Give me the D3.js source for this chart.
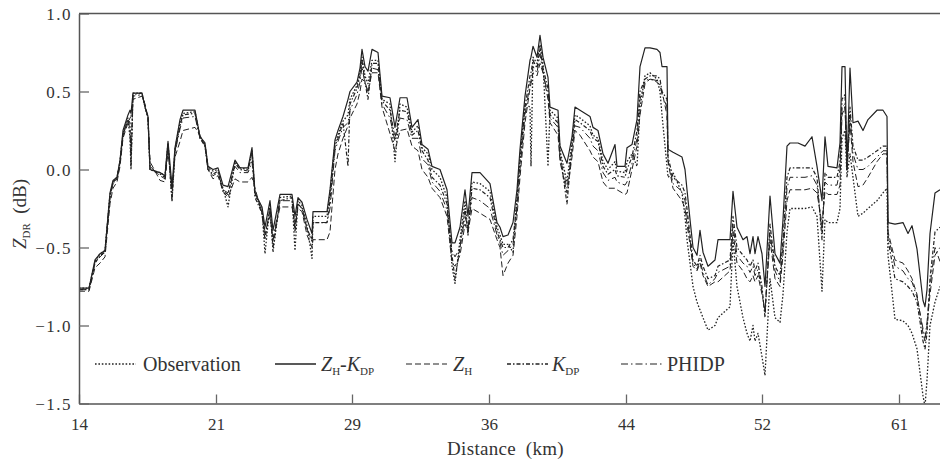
<!DOCTYPE html>
<html>
<head>
<meta charset="utf-8">
<script src="https://cdn.jsdelivr.net/npm/d3@7"></script>
<style>
  body { margin: 0; background: #fff; }
  svg text { font-family: "Liberation Serif", "DejaVu Serif", serif !important; fill: #333; }
</style>
</head>
<body>
<div id="chart"></div>
<script>

// Data: range gate index along the beam, ZDR (dB) for each correction method
var gate = [0,10,16,21,26,31,34,38,41,44,49,51,52,54,63,66,69,71,81,86,89,93,96,101,104,116,121,126,129,134,139,144,149,156,161,169,173,176,183,186,191,194,201,213,216,219,223,228,233,234,248,
  251,256,259,264,269,271,278,281,283,286,289,293,299,303,311,316,321,328,333,339,343,349,353,361,368,373,376,381,386,389,393,401,411,418,421,424,429,434,438,441,446,451,452,454,458,461,464,469,471,479,481,488,493,496,501,511,514,519,524,529,536,538,546,548,553,558,561,566,571,578,581,583,588,589,594,603,606,608,611,614,618,621,624,629,636,639,651,654,658,664,668,671,674,676,679,683,686,691,696,701,704,708,711,719,726,733,738,743,746,749,758,761,763,766,768,771,774,779,784,789,798,804,808,809,816,824,829,833,838,844,846,848,851,856,861];

var zhkdp = [-0.76,-0.76,-0.58,-0.54,-0.52,-0.15,-0.07,-0.05,0.06,0.25,0.35,0.38,0.36,0.49,0.49,0.40,0.34,0.00,-0.02,-0.04,0.18,-0.11,0.14,0.32,0.38,0.38,0.21,0.17,0.02,0.00,0.01,-0.10,-0.11,0.06,0.01,0.01,0.14,-0.15,-0.24,-0.37,-0.20,-0.39,-0.16,-0.16,-0.30,-0.18,-0.21,-0.32,-0.41,-0.27,-0.27,
  -0.13,0.19,0.25,0.34,0.45,0.50,0.56,0.65,0.77,0.66,0.63,0.77,0.75,0.47,0.46,0.27,0.46,0.46,0.27,0.32,0.16,0.13,0.02,0.00,-0.13,-0.47,-0.47,-0.37,-0.13,-0.30,-0.02,-0.02,-0.09,-0.34,-0.37,-0.43,-0.42,-0.34,-0.13,0.13,0.47,0.70,0.72,0.79,0.72,0.86,0.72,0.59,0.40,0.38,0.15,0.04,0.21,0.40,0.38,0.34,0.27,0.25,0.10,0.04,0.16,0.02,0.02,0.14,0.16,0.32,0.66,0.78,0.78,0.77,0.75,0.66,0.66,0.13,0.11,0.08,0.00,-0.13,-0.32,-0.50,-0.55,-0.39,-0.53,-0.62,-0.58,-0.45,-0.45,-0.14,-0.37,-0.45,-0.43,-0.54,-0.43,-0.54,-0.43,-0.54,-0.75,-0.17,-0.54,-0.60,-0.32,0.15,0.17,0.17,0.15,0.21,0.02,-0.20,0.21,0.02,0.01,0.17,0.66,0.66,0.01,0.65,0.30,0.31,0.25,0.32,0.38,0.38,0.34,-0.34,-0.35,-0.34,-0.41,-0.36,-0.51,-0.84,-0.88,-0.77,-0.41,-0.15,-0.13];

var zh = [-0.78,-0.78,-0.63,-0.60,-0.56,-0.22,-0.12,-0.08,0.02,0.20,0.30,0.33,0.34,0.45,0.47,0.42,0.33,0.05,-0.07,-0.08,0.12,-0.12,0.08,0.18,0.25,0.27,0.22,0.15,0.00,-0.06,-0.04,-0.14,-0.18,-0.06,-0.08,-0.08,-0.05,-0.12,-0.28,-0.40,-0.30,-0.45,-0.24,-0.24,-0.35,-0.25,-0.27,-0.42,-0.50,-0.45,-0.45,
  -0.40,0.00,0.10,0.20,0.28,0.33,0.42,0.50,0.58,0.56,0.50,0.62,0.62,0.40,0.23,0.12,0.25,0.26,0.15,0.12,0.00,-0.05,-0.12,-0.18,-0.30,-0.60,-0.62,-0.55,-0.35,-0.40,-0.25,-0.28,-0.32,-0.45,-0.50,-0.68,-0.60,-0.55,-0.30,-0.05,0.30,0.52,0.55,0.62,0.60,0.68,0.62,0.45,0.30,0.22,0.05,-0.15,0.08,0.25,0.22,0.12,0.08,0.05,-0.08,-0.12,-0.12,-0.13,-0.16,-0.15,0.00,0.15,0.35,0.55,0.58,0.56,0.54,0.50,0.35,0.05,-0.12,-0.20,-0.25,-0.35,-0.48,-0.62,-0.65,-0.60,-0.68,-0.75,-0.72,-0.72,-0.65,-0.40,-0.60,-0.65,-0.70,-0.72,-0.68,-0.72,-0.68,-0.80,-0.90,-0.45,-0.70,-0.75,-0.55,-0.20,-0.13,-0.13,-0.13,-0.12,-0.15,-0.35,-0.14,-0.16,-0.16,-0.10,0.35,0.40,0.00,0.30,0.05,-0.11,-0.10,-0.05,0.05,0.10,0.10,-0.40,-0.58,-0.60,-0.65,-0.70,-0.80,-1.05,-1.10,-1.00,-0.80,-0.55,-0.50];

var kdp = [-0.77,-0.77,-0.60,-0.55,-0.53,-0.17,-0.08,-0.06,0.05,0.22,0.32,0.30,0.02,0.48,0.49,0.40,0.33,0.00,-0.03,-0.05,0.16,-0.20,0.12,0.28,0.35,0.36,0.20,0.15,0.00,-0.03,-0.01,-0.14,-0.16,0.04,0.00,-0.01,0.10,-0.18,-0.28,-0.45,-0.25,-0.50,-0.20,-0.18,-0.40,-0.22,-0.25,-0.38,-0.45,-0.34,-0.34,
  -0.20,0.15,0.20,0.30,0.02,0.42,0.52,0.60,0.70,0.56,0.45,0.68,0.68,0.44,0.38,0.20,0.38,0.37,0.22,0.25,0.12,0.06,-0.05,-0.10,-0.22,-0.55,-0.70,-0.50,-0.25,-0.40,-0.12,-0.13,-0.18,-0.40,-0.45,-0.50,-0.50,-0.45,-0.20,0.05,0.40,0.60,0.62,0.70,0.65,0.78,0.65,0.52,0.35,0.30,0.10,-0.22,0.15,0.32,0.30,0.25,0.20,0.18,0.02,-0.03,0.00,-0.04,-0.05,0.00,0.08,0.25,0.50,0.58,0.60,0.60,0.58,0.50,0.45,0.08,-0.05,-0.10,-0.15,-0.25,-0.42,-0.58,-0.62,-0.55,-0.62,-0.70,-0.68,-0.62,-0.58,-0.30,-0.50,-0.55,-0.58,-0.62,-0.58,-0.65,-0.60,-0.75,-0.95,-0.35,-0.62,-0.68,-0.45,-0.05,0.01,0.01,0.01,0.01,-0.05,-0.45,-0.02,-0.05,-0.05,0.05,0.45,0.48,0.00,0.40,0.15,0.06,0.06,0.08,0.12,0.15,0.15,-0.45,-0.70,-0.72,-0.75,-0.78,-0.85,-1.10,-1.15,-1.05,-0.70,-0.40,-0.37];

var observation = [-0.76,-0.76,-0.59,-0.54,-0.52,-0.16,-0.08,-0.05,0.05,0.23,0.33,0.20,0.00,0.49,0.49,0.40,0.34,0.00,-0.02,-0.04,0.17,-0.20,0.13,0.30,0.36,0.37,0.21,0.16,0.01,-0.01,0.00,-0.12,-0.24,0.05,0.01,0.00,0.12,-0.16,-0.26,-0.54,-0.22,-0.53,-0.18,-0.17,-0.52,-0.20,-0.23,-0.36,-0.57,-0.30,-0.30,
  -0.15,0.17,0.22,0.31,0.35,0.45,0.54,0.62,0.72,0.60,0.55,0.70,0.70,0.45,0.42,0.05,0.42,0.40,0.24,0.28,0.14,0.10,0.00,-0.05,-0.18,-0.62,-0.73,-0.45,-0.20,-0.42,-0.08,-0.09,-0.14,-0.37,-0.42,-0.48,-0.48,-0.53,-0.18,0.08,0.42,0.40,0.02,0.72,0.68,0.80,0.68,0.02,0.38,0.33,0.12,-0.08,0.18,0.35,0.33,0.28,0.22,0.20,0.05,0.00,0.05,-0.01,-0.02,0.05,0.10,0.02,0.40,0.60,0.62,0.58,0.50,0.35,0.02,-0.05,-0.02,-0.15,-0.30,-0.45,-0.60,-0.75,-0.85,-0.90,-0.95,-1.03,-1.00,-0.95,-0.88,-0.45,-0.75,-0.95,-1.05,-1.10,-1.00,-1.10,-1.05,-1.20,-1.32,-0.70,-0.95,-0.98,-0.80,-0.40,-0.25,-0.25,-0.25,-0.24,-0.30,-0.78,-0.32,-0.34,-0.34,-0.25,0.20,0.25,-0.05,0.10,-0.05,-0.30,-0.28,-0.25,-0.20,-0.15,-0.12,-0.55,-0.96,-0.97,-1.00,-1.05,-1.15,-1.45,-1.52,-1.35,-1.00,-0.85,-0.75];

var phidp = [-0.77,-0.77,-0.60,-0.56,-0.53,-0.18,-0.09,-0.06,0.04,0.22,0.32,0.25,0.10,0.47,0.48,0.41,0.33,0.02,-0.04,-0.06,0.15,-0.15,0.11,0.26,0.33,0.34,0.20,0.15,0.00,-0.04,-0.02,-0.13,-0.15,0.02,-0.02,-0.02,0.05,-0.15,-0.27,-0.42,-0.26,-0.45,-0.20,-0.20,-0.38,-0.22,-0.25,-0.38,-0.46,-0.34,-0.34,
  -0.25,0.12,0.18,0.27,0.30,0.38,0.48,0.56,0.66,0.55,0.50,0.65,0.64,0.42,0.33,0.18,0.33,0.32,0.20,0.20,0.07,0.03,-0.08,-0.14,-0.26,-0.52,-0.56,-0.50,-0.30,-0.38,-0.18,-0.20,-0.25,-0.42,-0.47,-0.55,-0.52,-0.48,-0.25,0.00,0.35,0.55,0.57,0.66,0.62,0.74,0.62,0.48,0.33,0.27,0.08,-0.12,0.12,0.28,0.27,0.20,0.15,0.12,-0.02,-0.07,-0.05,-0.08,-0.10,-0.08,0.04,0.20,0.45,0.57,0.58,0.57,0.55,0.48,0.40,0.06,-0.09,-0.14,-0.20,-0.30,-0.45,-0.60,-0.64,-0.58,-0.66,-0.74,-0.70,-0.66,-0.62,-0.35,-0.55,-0.60,-0.62,-0.66,-0.62,-0.68,-0.64,-0.78,-0.92,-0.40,-0.65,-0.72,-0.50,-0.12,-0.05,-0.05,-0.05,-0.04,-0.10,-0.40,-0.08,-0.10,-0.10,0.00,0.40,0.42,0.00,0.35,0.10,0.00,0.00,0.02,0.08,0.12,0.12,-0.42,-0.62,-0.65,-0.70,-0.72,-0.82,-1.02,-1.08,-0.98,-0.75,-0.50,-0.59];

// Tick positions (gate) and their distance labels (km)
var tickGates = [0, 137, 273, 410, 547, 683, 820];
var tickLabels = ["14", "21", "29", "36", "44", "52", "61"];
var yTicks = [-1.5, -1.0, -0.5, 0.0, 0.5, 1.0];

var serif = "'Liberation Serif', 'DejaVu Serif', serif";

// SVG drawing area
var margin = {top: 13.5, right: 0, bottom: 58.5, left: 79};
var width = 940 - margin.left - margin.right,
    height = 462 - margin.top - margin.bottom;

var svg = d3.select("#chart").append("svg")
    .attr("width", width + margin.left + margin.right)
    .attr("height", height + margin.top + margin.bottom)
    .attr("font-family", serif)
  .append("g")
    .attr("transform", "translate(" + margin.left + "," + margin.top + ")");

var xScale = d3.scaleLinear().domain([0, 861]).range([0, width]);
var yScale = d3.scaleLinear().domain([-1.5, 1.0]).range([height, 0]);

svg.append("clipPath").attr("id", "plot-clip")
  .append("rect").attr("width", width).attr("height", height);

// series, styles in the same order as the legend
var series = [
  {name: "obs", values: observation, dash: "1.6,1.8", w: 1.3},
  {name: "zhkdp", values: zhkdp, dash: null, w: 1.2},
  {name: "zh", values: zh, dash: "6,3", w: 1.0},
  {name: "kdp", values: kdp, dash: "4,2,1.5,2", w: 1.2},
  {name: "phidp", values: phidp, dash: "7,3,1.5,3", w: 1.0}
];

var line = d3.line()
  .x(function(d) { return xScale(d[0]); })
  .y(function(d) { return yScale(d[1]); });

var lines = svg.append("g").attr("clip-path", "url(#plot-clip)");
series.forEach(function(s) {
  lines.append("path")
    .datum(gate.map(function(g, i) { return [g, s.values[i]]; }))
    .attr("d", line)
    .attr("fill", "none")
    .attr("stroke", "#222")
    .attr("stroke-width", s.w)
    .attr("stroke-dasharray", s.dash)
    .attr("stroke-linejoin", "round");
});

// ******* AXES *******
var xAxis = d3.axisBottom(xScale)
  .tickValues(tickGates)
  .tickFormat(function(d, i) { return tickLabels[i]; })
  .tickSizeInner(-9).tickSizeOuter(0).tickPadding(16);
var yAxis = d3.axisLeft(yScale)
  .tickValues(yTicks)
  .tickFormat(function(d) { return d3.format(".1f")(d).replace("-", "\u2212"); })
  .tickSizeInner(-10).tickSizeOuter(0).tickPadding(7);

var xg = svg.append("g").attr("transform", "translate(0," + height + ")").call(xAxis);
var yg = svg.append("g").call(yAxis);
[xg, yg].forEach(function(g) {
  g.attr("font-family", serif);
  g.select(".domain").attr("stroke", "#555").attr("stroke-width", 1.5);
  g.selectAll(".tick line").attr("stroke", "#666").attr("stroke-width", 1.3);
  g.selectAll(".tick text").attr("fill", "#333").style("font-size", "17px");
});
yg.selectAll(".tick text").style("letter-spacing", "1.5px").attr("dy", "0.38em");
xg.selectAll(".tick text").attr("dy", "0.6em");

// top border
svg.append("line").attr("x1", 0).attr("x2", width).attr("y1", 0).attr("y2", 0)
  .attr("stroke", "#555").attr("stroke-width", 1.5);

// axis titles
svg.append("text")
  .attr("x", width / 2 - 4).attr("y", height + 51.5)
  .attr("text-anchor", "middle").style("font-size", "19px").style("letter-spacing", "0.3px")
  .text("Distance\u2002(km)");

var ylab = svg.append("text")
  .attr("transform", "translate(" + (26 - margin.left) + "," + (214 - margin.top) + ") rotate(-90)")
  .attr("text-anchor", "middle").style("font-size", "19px");
ylab.append("tspan").style("font-style", "italic").text("Z");
ylab.append("tspan").attr("dy", 4).style("font-size", "11px").text("DR");
ylab.append("tspan").attr("dy", -4).text("\u2002(dB)");

// ******* LEGEND *******
var legendX = [95, 275, 406, 507, 621];
var legendY = 364 - margin.top;
var legend = svg.append("g").attr("transform", "translate(" + (-margin.left) + ",0)");

series.forEach(function(s, i) {
  legend.append("line")
    .attr("x1", legendX[i]).attr("x2", legendX[i] + 41)
    .attr("y1", legendY).attr("y2", legendY)
    .attr("stroke", "#222").attr("stroke-width", s.w + 0.2)
    .attr("stroke-dasharray", s.dash);
});

function legendText(x, parts) {
  var t = legend.append("text").attr("x", x).attr("y", legendY + 7).style("font-size", "20px");
  parts.forEach(function(p) {
    var ts = t.append("tspan").text(p[0]);
    if (p[1] == "i") ts.style("font-style", "italic");
    if (p[1] == "sub") ts.attr("dy", 4).style("font-size", "11px");
    if (p[1] == "up") ts.attr("dy", -4);
  });
}
legendText(143, [["Observation"]]);
legendText(321, [["Z", "i"], ["H", "sub"], ["-", "up"], ["K", "i"], ["DP", "sub"]]);
legendText(453, [["Z", "i"], ["H", "sub"]]);
legendText(552, [["K", "i"], ["DP", "sub"]]);
legendText(667, [["PHIDP"]]);

</script>
</body>
</html>
